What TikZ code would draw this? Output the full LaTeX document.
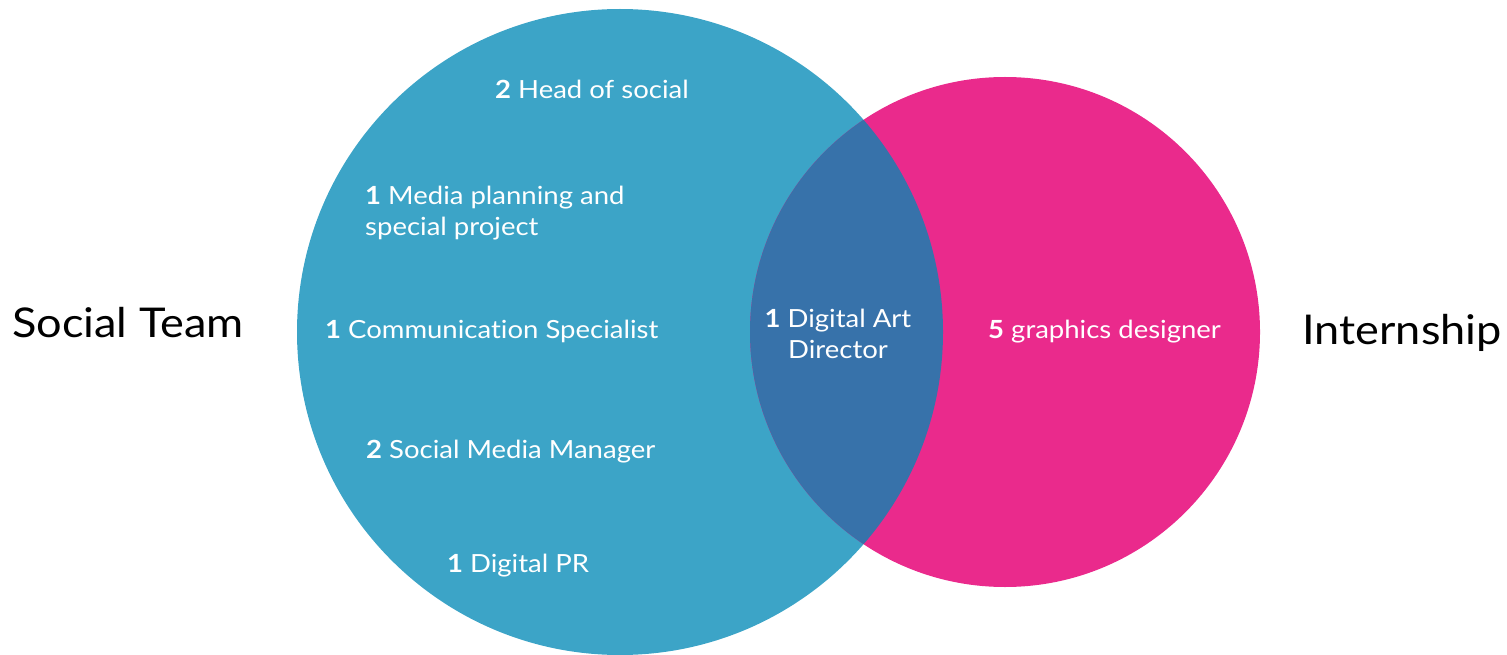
\documentclass[tikz,border=0pt]{standalone}
\usepackage{fontspec}
\setmainfont{Lato}[FakeStretch=1.1,Ligatures={NoCommon,NoRare}]
\definecolor{teamblue}{HTML}{3CA4C7}
\definecolor{interpink}{HTML}{EA2A8C}
\definecolor{overlapblue}{HTML}{3772AA}
\begin{document}
\begin{tikzpicture}[x=1pt,y=-1pt,
  inner/.style={text=white,font=\fontsize{25}{31}\selectfont,inner sep=0pt},
  side/.style={text=black,font=\fontsize{41}{48}\selectfont,inner sep=0pt}]
\useasboundingbox (0,0) rectangle (1507,655);
\fill[teamblue] (620,332) circle[radius=323];
\fill[interpink] (1005,332) circle[radius=255];
\begin{scope}
\clip (620,332) circle[radius=323];
\fill[overlapblue] (1005,332) circle[radius=255];
\end{scope}
\node[inner,anchor=west] (head) at (495,89) {\textbf{2} Head of social};
\node[inner,anchor=west,align=left] (media) at (365,213) {\textbf{1} Media planning and\\special project};
\node[inner,anchor=west] (comm) at (325,331) {\textbf{1} Communication Specialist};
\node[inner,anchor=west] (smm) at (366,452) {\textbf{2} Social Media Manager};
\node[inner,anchor=west] (pr) at (447,566) {\textbf{1} Digital PR};
\node[inner,align=center] (art) at (838,334) {\textbf{1} Digital Art\\Director};
\node[inner,anchor=west] (gfx) at (988,332) {\textbf{5} graphics designer};
\node[side,anchor=west] (team) at (12,323) {Social Team};
\node[side,anchor=east] (intern) at (1502,333) {Internship};
\end{tikzpicture}
\end{document}
